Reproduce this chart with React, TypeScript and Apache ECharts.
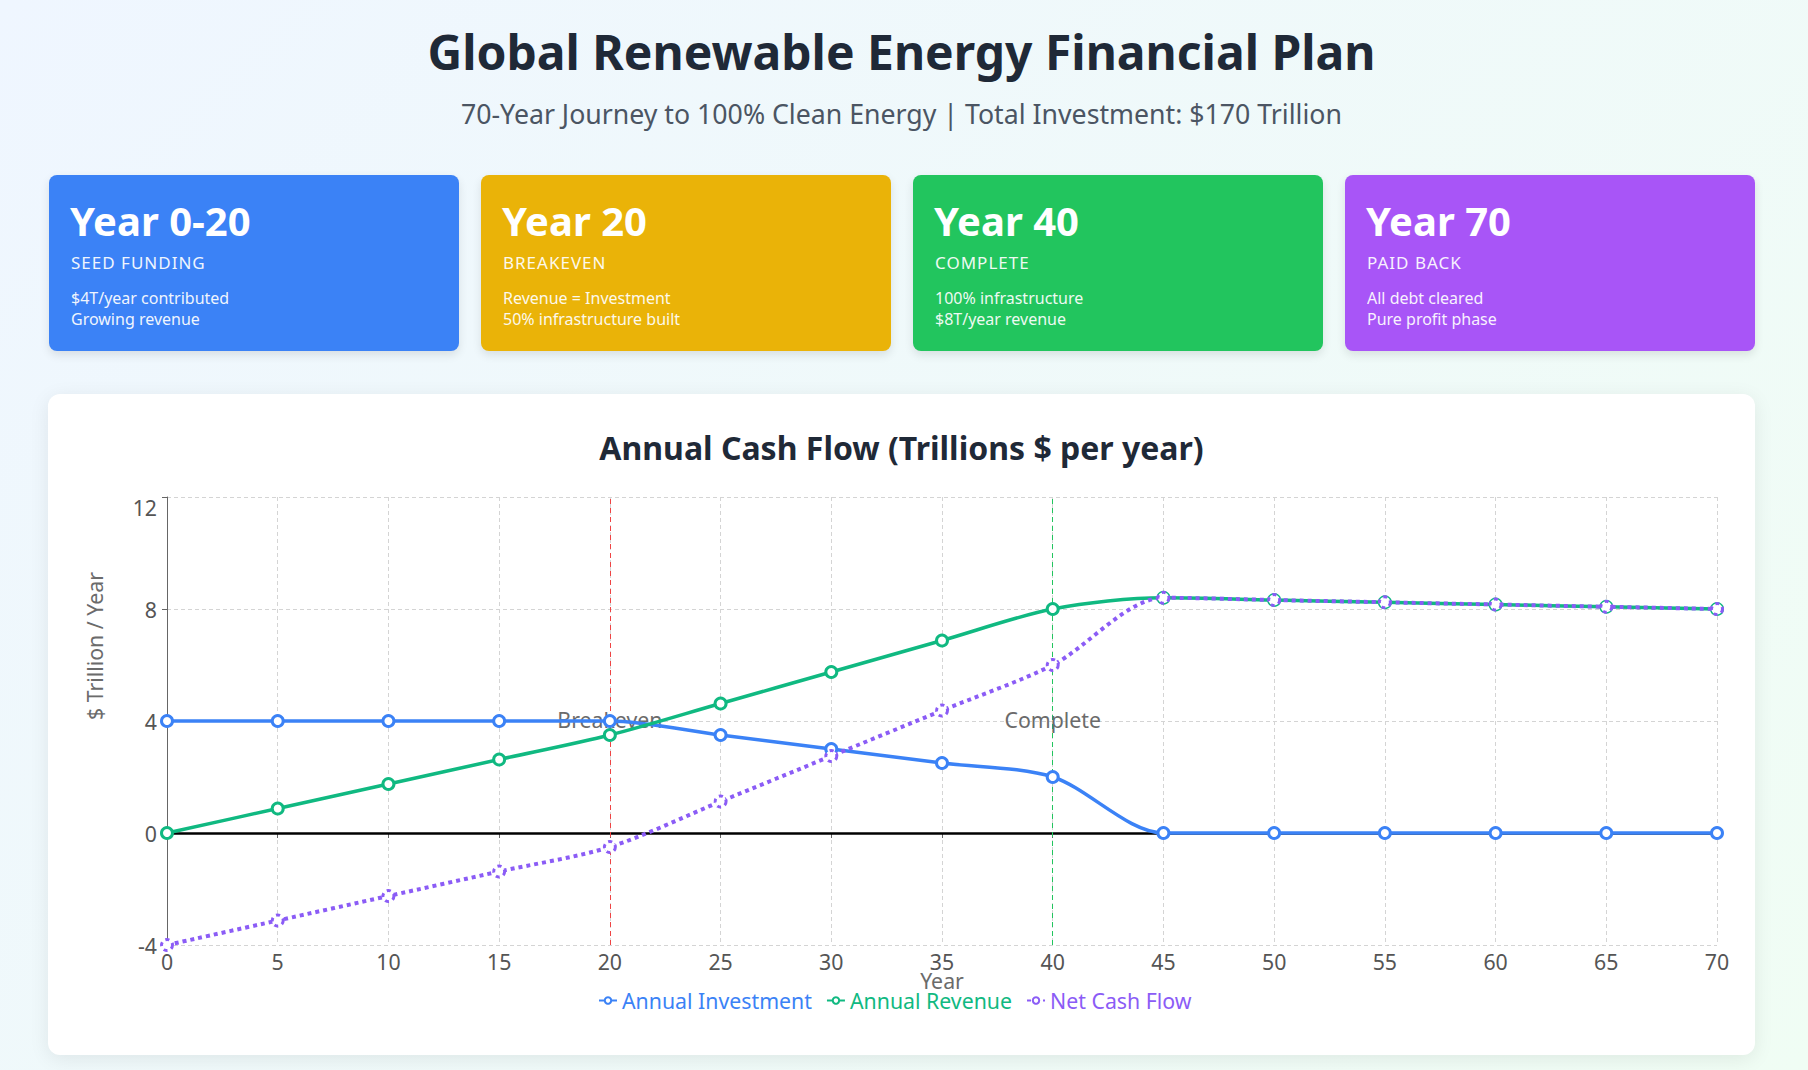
import React, { useEffect, useRef } from "react";
import * as echarts from "echarts";

// ---- data ----
const years = [0, 5, 10, 15, 20, 25, 30, 35, 40, 45, 50, 55, 60, 65, 70];
const investment = [4, 4, 4, 4, 4, 3.5, 3, 2.5, 2, 0, 0, 0, 0, 0, 0];
const revenue = [0, 0.875, 1.75, 2.625, 3.5, 4.625, 5.75, 6.875, 8, 8.4, 8.32, 8.24, 8.16, 8.08, 8];
const netCashFlow = [-4, -3.125, -2.25, -1.375, -0.5, 1.125, 2.75, 4.375, 6, 8.4, 8.32, 8.24, 8.16, 8.08, 8];
const seriesNames = ["Annual Investment", "Annual Revenue", "Net Cash Flow"];
const seriesColors = ["#3b82f6", "#10b981", "#8b5cf6"];
const milestoneYears = [20, 40];
const milestoneLabels = ["Breakeven", "Complete"];
const milestoneColors = ["#ef4444", "#22c55e"];
const annotationLevel = 4;

const cardTitles = ["Year 0-20", "Year 20", "Year 40", "Year 70"];
const cardLabels = ["SEED FUNDING", "BREAKEVEN", "COMPLETE", "PAID BACK"];
const cardLines = [
  ["$4T/year contributed", "Growing revenue"],
  ["Revenue = Investment", "50% infrastructure built"],
  ["100% infrastructure", "$8T/year revenue"],
  ["All debt cleared", "Pure profit phase"],
];
const cardColors = ["#3b82f6", "#eab308", "#22c55e", "#a855f7"];

const FONT = "'Noto Sans', sans-serif";
const CF = 21.3; // chart font size

function buildOption(): any {
  const pairs = (vals: number[]) => years.map((y, i) => [y, vals[i]]);
  const values = [investment, revenue, netCashFlow];
  const lineSeries = values.map((v, i) => ({
    name: seriesNames[i],
    type: "line",
    data: pairs(v),
    smooth: 0.3,
    symbol: "circle",
    symbolSize: 11,
    showSymbol: true,
    z: 3 + i,
    lineStyle: {
      color: seriesColors[i],
      width: i === 2 ? 4 : 3.5,
      type: i === 2 ? [4, 4] : "solid",
    },
    itemStyle: {
      color: "#ffffff",
      borderColor: seriesColors[i],
      borderWidth: 3,
      borderType: i === 2 ? [4, 4] : "solid",
    },
  }));

  const helper = {
    name: "helper",
    type: "line",
    data: [],
    z: 1,
    silent: true,
    markLine: {
      z: 1,
      silent: true,
      symbol: "none",
      animation: false,
      label: { show: false },
      data: [
        { yAxis: 0, lineStyle: { color: "#000000", width: 2.5, type: "solid" } },
        ...milestoneYears.map((yr, i) => ({
          xAxis: yr,
          lineStyle: { color: milestoneColors[i], width: 1, type: [5, 4] },
        })),
      ],
    },
    markPoint: {
      z: 1,
      silent: true,
      animation: false,
      data: milestoneYears.map((yr, i) => ({
        coord: [yr, annotationLevel],
        symbol: "circle",
        symbolSize: 1,
        itemStyle: { color: "rgba(0,0,0,0)" },
        label: {
          show: true,
          position: "inside",
          offset: [0, -2],
          formatter: milestoneLabels[i],
          color: "#6b6b6b",
          fontSize: CF,
          fontFamily: FONT,
        },
      })),
    },
  };

  return {
    animation: false,
    textStyle: { fontFamily: FONT },
    title: {
      text: "Annual Cash Flow (Trillions $ per year)",
      left: "center",
      top: 32,
      textStyle: { fontSize: 32, fontWeight: 700, color: "#1f2937", fontFamily: FONT },
    },
    grid: { left: 119, right: 38, top: 103, bottom: 110, containLabel: false },
    xAxis: {
      type: "value",
      min: 0,
      max: 70,
      interval: 5,
      name: "Year",
      nameLocation: "middle",
      nameGap: 24.5,
      nameMoveOverlap: false,
      nameTextStyle: { fontSize: CF, color: "#6b6b6b", fontFamily: FONT },
      axisLine: { show: true, lineStyle: { color: "#666666", width: 1 } },
      axisTick: { show: true, length: 5, lineStyle: { color: "#666666" } },
      axisLabel: { fontSize: CF, color: "#555555", margin: 6, fontFamily: FONT },
      splitLine: { show: true, lineStyle: { color: "#d4d4d4", type: [4, 3], width: 1 } },
    },
    yAxis: {
      type: "value",
      min: -4,
      max: 12,
      interval: 4,
      axisLine: { show: true, lineStyle: { color: "#666666", width: 1 } },
      axisTick: { show: true, length: 5, lineStyle: { color: "#666666" } },
      axisLabel: {
        fontSize: CF,
        color: "#555555",
        margin: 10,
        fontFamily: FONT,
        verticalAlignMaxLabel: "top",
      },
      splitLine: { show: true, lineStyle: { color: "#d4d4d4", type: [4, 3], width: 1 } },
    },
    legend: {
      data: seriesNames.map((n, i) => ({ name: n, textStyle: { color: seriesColors[i] } })),
      left: 545,
      top: 591,
      itemWidth: 18,
      itemHeight: 8,
      itemGap: 14,
      textStyle: { fontSize: CF, fontFamily: FONT },
    },
    graphic: [
      {
        type: "text",
        x: 46,
        y: 252,
        rotation: Math.PI / 2,
        style: {
          text: "$ Trillion / Year",
          fill: "#6b6b6b",
          fontSize: CF,
          fontFamily: FONT,
          align: "center",
          verticalAlign: "middle",
        },
      },
    ],
    series: [helper, ...lineSeries],
  };
}

function Chart() {
  const ref = useRef<HTMLDivElement>(null);
  useEffect(() => {
    const chart = echarts.init(ref.current as HTMLDivElement, null, { renderer: "svg" });
    chart.setOption(buildOption());
    return () => chart.dispose();
  }, []);
  return <div ref={ref} style={{ position: "absolute", left: 0, top: 0, width: 1707, height: 661 }} />;
}

export default function App() {
  return (
    <div
      style={{
        position: "absolute",
        left: 0,
        top: 0,
        width: 1808,
        height: 1070,
        overflow: "hidden",
        background: "linear-gradient(135deg, #eff6ff 0%, #f0fdf4 100%)",
        fontFamily: FONT,
      }}
    >
      <div
        style={{
          position: "absolute",
          left: 48,
          width: 1707,
          top: 22,
          textAlign: "center",
          fontSize: 48,
          fontWeight: 700,
          lineHeight: "60px",
          color: "#1f2937",
          whiteSpace: "nowrap",
        }}
      >
        Global Renewable Energy Financial Plan
      </div>
      <div
        style={{
          position: "absolute",
          left: 48,
          width: 1707,
          top: 96,
          textAlign: "center",
          fontSize: 26.7,
          lineHeight: "36px",
          color: "#4b5563",
          whiteSpace: "nowrap",
        }}
      >
        70-Year Journey to 100% Clean Energy | Total Investment: $170 Trillion
      </div>
      {cardTitles.map((t, i) => (
        <div
          key={t}
          style={{
            position: "absolute",
            left: 49 + i * 432,
            top: 175,
            width: 410,
            height: 176,
            borderRadius: 8,
            background: cardColors[i],
            boxShadow: "0 4px 10px rgba(0,0,0,0.10)",
            color: "#ffffff",
          }}
        >
          <div style={{ position: "absolute", left: 21, top: 22, fontSize: 40, fontWeight: 700, lineHeight: "48px", whiteSpace: "nowrap" }}>
            {t}
          </div>
          <div
            style={{
              position: "absolute",
              left: 22,
              top: 77,
              fontSize: 17,
              lineHeight: "22px",
              letterSpacing: 1,
              opacity: 0.92,
              whiteSpace: "nowrap",
            }}
          >
            {cardLabels[i]}
          </div>
          <div style={{ position: "absolute", left: 22, top: 113, fontSize: 16, lineHeight: "21px", opacity: 0.92, whiteSpace: "nowrap" }}>
            {cardLines[i].map((l) => (
              <div key={l}>{l}</div>
            ))}
          </div>
        </div>
      ))}
      <div
        style={{
          position: "absolute",
          left: 48,
          top: 394,
          width: 1707,
          height: 661,
          borderRadius: 12,
          background: "#ffffff",
          boxShadow: "0 4px 20px rgba(0,0,0,0.08)",
          overflow: "hidden",
        }}
      >
        <Chart />
      </div>
    </div>
  );
}
